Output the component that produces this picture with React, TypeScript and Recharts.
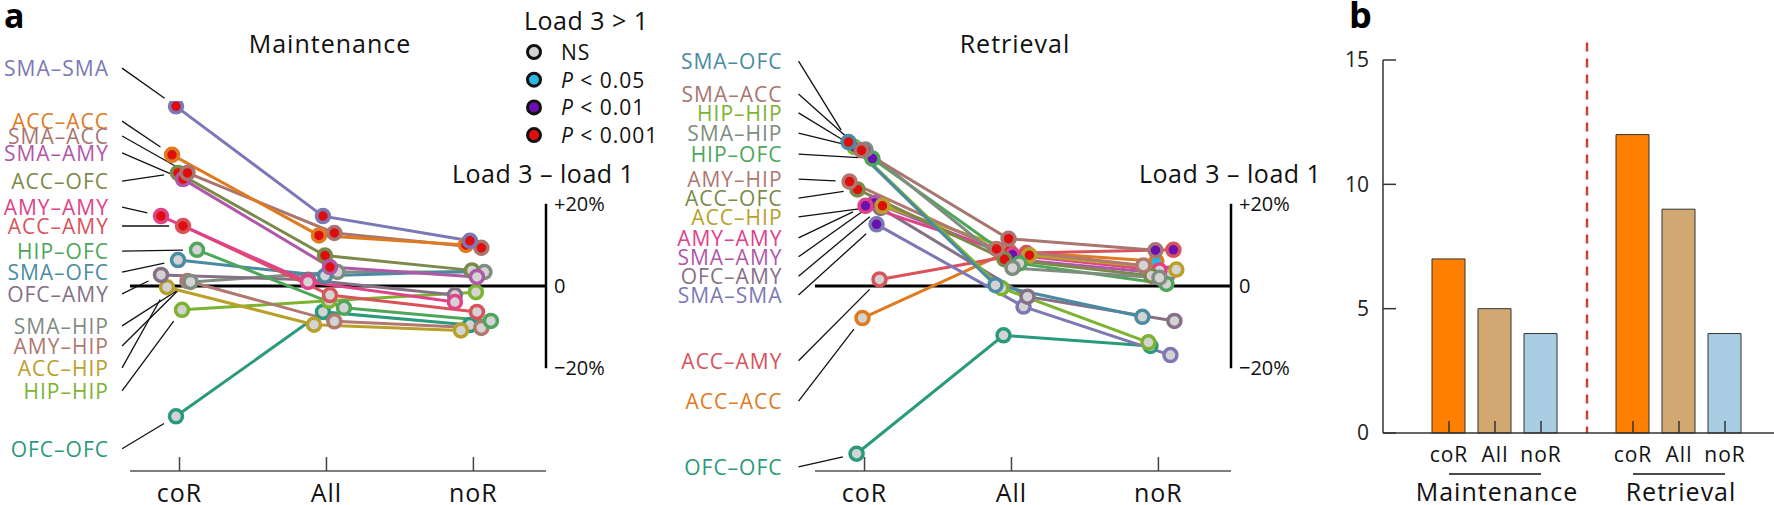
import React from "react";
import {
  LineChart,
  Line,
  XAxis,
  YAxis,
  ReferenceLine,
  ReferenceDot,
  BarChart,
  Bar,
  Cell,
} from "recharts";

const categories = ["coR", "All", "noR"];

// region pairs, listed in label order (top to bottom)
const maintRegions = [
  "SMA–SMA", "ACC–ACC", "SMA–ACC", "SMA–AMY", "ACC–OFC", "AMY–AMY", "ACC–AMY",
  "HIP–OFC", "SMA–OFC", "OFC–AMY", "SMA–HIP", "AMY–HIP", "ACC–HIP", "HIP–HIP", "OFC–OFC",
];
// load 3 - load 1 (%) at coR, All, noR
const maintValues = [
  [43.7, 17, 11], [31.9, 12.3, 10], [27.5, 12.9, 9.3], [26, 4.6, 2.2], [27.5, 7.4, 3.8],
  [17, 1, -3.9], [14.6, -2.2, -6.3], [8.8, -5.3, -8.5], [6.3, 2.5, 3.6], [2.7, 1.5, -2.2],
  [1, 3.4, 3.4], [1.2, -8.6, -10.2], [-0.3, -9.4, -10.8], [-5.8, -3.6, -1.5], [-31.7, -6.3, -9.5],
];
// 0 NS, 1 P<0.05, 2 P<0.01, 3 P<0.001
const maintSig = [
  [3, 3, 3], [3, 3, 3], [3, 3, 3], [3, 3, 0], [3, 3, 0], [3, 0, 0], [3, 0, 0], [0, 0, 0],
  [0, 0, 1], [0, 0, 0], [0, 0, 0], [0, 0, 0], [0, 0, 0], [0, 0, 0], [0, 0, 0],
];
const maintJitter = [
  -0.024, -0.051, 0.054, 0.024, -0.01, -0.126, 0.024, 0.119, -0.01, -0.126, 0.075, 0.054,
  -0.085, 0.017, -0.024,
];
const maintLabelY = [53, 40.1, 36.5, 32.4, 25.5, 19.2, 14.6, 8.5, 3.4, -1.9, -9.7, -14.6, -19.9, -25.5, -39.6];

const retrRegions = [
  "SMA–OFC", "SMA–ACC", "HIP–HIP", "SMA–HIP", "HIP–OFC", "AMY–HIP", "ACC–OFC", "ACC–HIP",
  "AMY–AMY", "SMA–AMY", "OFC–AMY", "SMA–SMA", "ACC–AMY", "ACC–ACC", "OFC–OFC",
];
const retrValues = [
  [35, 0.2, -7.5], [33, 11.5, 8.7], [33.8, -0.5, -13.7], [33.2, 4.4, 2], [31, 5.5, 0.5],
  [25.4, 9, 5], [23.5, 6.5, 2.5], [19.5, 7.5, 4], [19.5, 7.6, 3.8], [20.2, 6.3, 3],
  [19, -2.6, -8.5], [15, -5, -16.8], [1.6, 8, 8.8], [-7.8, 8.5, 6], [-40.8, -12, -14.6],
];
const retrSig = [
  [3, 0, 0], [3, 3, 2], [2, 0, 0], [2, 0, 0], [2, 0, 0], [3, 3, 0], [3, 3, 0], [3, 3, 0],
  [2, 2, 0], [2, 2, 0], [3, 0, 0], [2, 0, 0], [0, 3, 2], [0, 3, 1], [0, 0, 0],
];
const retrJitter = [
  -0.109, -0.02, -0.068, 0.007, 0.054, -0.102, -0.048, 0.122, 0.007, 0.068, 0.109, 0.082,
  0.102, -0.014, -0.054,
];
const retrLabelY = [54.7, 46.7, 42.1, 37.2, 32.1, 26, 21.4, 16.8, 11.7, 7.1, 2.4, -2.2, -18.2, -28, -44];

const barLabels = ["coR", "All", "noR"];
const barGroups = ["Maintenance", "Retrieval"];
const maintCounts = [7, 5, 4];
const retrCounts = [12, 9, 4];

const legendLabels = ["NS", "< 0.05", "< 0.01", "< 0.001"];

const regionColors: Record<string, string> = {
  "SMA–SMA": "#7b78b5",
  "ACC–ACC": "#e07a1f",
  "SMA–ACC": "#a87570",
  "SMA–AMY": "#b058a8",
  "ACC–OFC": "#7b8a48",
  "AMY–AMY": "#e0428a",
  "ACC–AMY": "#d9535b",
  "HIP–OFC": "#4ea65a",
  "SMA–OFC": "#4a8ba3",
  "OFC–AMY": "#857086",
  "SMA–HIP": "#7e8d80",
  "AMY–HIP": "#b07870",
  "ACC–HIP": "#b9a02a",
  "HIP–HIP": "#7cb32f",
  "OFC–OFC": "#2a9a7c",
};
const sigColors = ["#d3d3d3", "#2bb7e3", "#6a0fb0", "#e00d0d"];
const barColors = ["#ff8000", "#d2a872", "#a9cde2"];

const FONT = "'Open Sans', sans-serif";

// slope panel geometry
const PLOT_W = 416;
const PLOT_TOP = 101;
const PLOT_H = 370;
const AXIS_R = 74;
const X_DOMAIN: [number, number] = [-0.337, 2.494];
const Y_DOMAIN: [number, number] = [-45, 45];
const PX_X = PLOT_W / (X_DOMAIN[1] - X_DOMAIN[0]);
const PX_Y = PLOT_H / (Y_DOMAIN[1] - Y_DOMAIN[0]);

const fmtPct = (v: number) => (v === 0 ? "0" : v > 0 ? `+${v}%` : `−${Math.abs(v)}%`);

// end of a leader line, stopped short of the marker
function leaderEnd(sx: number, sy: number, mx: number, my: number, gap = 14) {
  const dx = (mx - sx) * PX_X;
  const dy = (my - sy) * PX_Y;
  const d = Math.hypot(dx, dy) || 1;
  return { x: mx - ((dx / d) * gap) / PX_X, y: my - ((dy / d) * gap) / PX_Y };
}

interface SlopeProps {
  regions: string[];
  values: number[][];
  sig: number[][];
  jitter: number[];
  labelY: number[];
  labelX: number;
  leadX: number;
  left: number;
  marginLeft: number;
}

function SlopePanel({ regions, values, sig, jitter, labelY, labelX, leadX, left, marginLeft }: SlopeProps) {
  const width = marginLeft + PLOT_W + AXIS_R;
  const order = regions.map((_, i) => i).reverse();
  return (
    <div style={{ position: "absolute", left, top: 0 }}>
      <LineChart
        width={width}
        height={505}
        margin={{ top: PLOT_TOP, right: 0, bottom: 0, left: marginLeft }}
      >
        <XAxis
          type="number"
          dataKey="x"
          domain={X_DOMAIN}
          ticks={[0, 1, 2]}
          interval={0}
          allowDataOverflow
          tickFormatter={(v: number) => categories[v]}
          height={505 - PLOT_TOP - PLOT_H}
          tickSize={-14}
          tickMargin={27}
          axisLine={{ stroke: "#555", strokeWidth: 1.5 }}
          tickLine={{ stroke: "#444", strokeWidth: 1.5 }}
          tick={{ fill: "#111", fontSize: 25, letterSpacing: 1 }}
        />
        <YAxis
          orientation="right"
          type="number"
          domain={Y_DOMAIN}
          ticks={[-20, 0, 20]}
          interval={0}
          allowDataOverflow
          tickFormatter={fmtPct}
          width={AXIS_R}
          axisLine={false}
          tickLine={false}
          tickSize={0}
          tickMargin={8}
          tick={{ fill: "#111", fontSize: 20 }}
        />
        <ReferenceLine y={0} stroke="#000" strokeWidth={3} />
        <ReferenceLine
          segment={[
            { x: X_DOMAIN[1], y: 20 },
            { x: X_DOMAIN[1], y: -20 },
          ]}
          stroke="#000"
          strokeWidth={2.5}
          ifOverflow="visible"
        />
        {regions.map((name, i) => {
          const mx = jitter[i];
          const my = values[i][0];
          const end = leaderEnd(leadX, labelY[i], mx, my);
          return (
            <ReferenceLine
              key={`lead-${name}`}
              segment={[
                { x: leadX, y: labelY[i] },
                { x: end.x, y: end.y },
              ]}
              stroke="#111"
              strokeWidth={1.3}
              ifOverflow="visible"
            />
          );
        })}
        {regions.map((name, i) => (
          <ReferenceDot
            key={`lab-${name}`}
            x={labelX}
            y={labelY[i]}
            r={0}
            ifOverflow="visible"
            shape={(p: any) => (
              <text
                x={p.cx}
                y={p.cy}
                textAnchor="end"
                dominantBaseline="central"
                fill={regionColors[name]}
                fontSize={21}
                letterSpacing={1}
              >
                {name}
              </text>
            )}
          />
        ))}
        {order.map((i) => {
          const color = regionColors[regions[i]];
          const pts = values[i].map((v, j) => ({ x: j + jitter[i], y: v, s: sig[i][j] }));
          return (
            <Line
              key={regions[i]}
              data={pts}
              dataKey="y"
              type="linear"
              stroke={color}
              strokeWidth={3}
              isAnimationActive={false}
              dot={(p: any) => (
                <circle
                  key={`${regions[i]}-${p.index}`}
                  cx={p.cx}
                  cy={p.cy}
                  r={6.5}
                  fill={sigColors[p.payload.s]}
                  stroke={color}
                  strokeWidth={3.5}
                />
              )}
              activeDot={false}
            />
          );
        })}
      </LineChart>
    </div>
  );
}

const barData = [
  ...maintCounts.map((v, k) => ({ x: k, v, k })),
  ...retrCounts.map((v, k) => ({ x: k + 4, v, k })),
];

function BarTick(props: any) {
  const { x, y, payload } = props;
  const val = payload.value as number;
  const g = val > 3 ? 1 : 0;
  const k = val - g * 4;
  return (
    <g>
      <text x={x} y={y} dy="0.71em" textAnchor="middle" fill="#111" fontSize={21} letterSpacing={1}>
        {barLabels[k]}
      </text>
      {k === 1 && (
        <>
          <line x1={x - 46} x2={x + 46} y1={y + 27} y2={y + 27} stroke="#111" strokeWidth={1.3} />
          <text x={x + 2} y={y + 54} textAnchor="middle" fill="#111" fontSize={25} letterSpacing={1}>
            {barGroups[g]}
          </text>
        </>
      )}
    </g>
  );
}

export default function App() {
  return (
    <div
      style={{
        position: "absolute",
        left: 0,
        top: 0,
        width: 1774,
        height: 505,
        overflow: "hidden",
        background: "#fff",
        fontFamily: FONT,
      }}
    >
      <SlopePanel
        regions={maintRegions}
        values={maintValues}
        sig={maintSig}
        jitter={maintJitter}
        labelY={maintLabelY}
        labelX={-0.48}
        leadX={-0.391}
        left={0}
        marginLeft={130}
      />
      <SlopePanel
        regions={retrRegions}
        values={retrValues}
        sig={retrSig}
        jitter={retrJitter}
        labelY={retrLabelY}
        labelX={-0.558}
        leadX={-0.449}
        left={655}
        marginLeft={160}
      />
      <div style={{ position: "absolute", left: 1300, top: 0 }}>
        <BarChart width={474} height={505} data={barData} margin={{ top: 60, right: 0, bottom: 0, left: 0 }}>
          <XAxis
            type="number"
            dataKey="x"
            domain={[-1.435, 7.065]}
            ticks={[0, 1, 2, 4, 5, 6]}
            interval={0}
            allowDataOverflow
            height={72}
            tickSize={-12}
            tickMargin={26}
            tick={<BarTick />}
            axisLine={{ stroke: "#333", strokeWidth: 1.5 }}
            tickLine={{ stroke: "#333", strokeWidth: 1.5 }}
          />
          <YAxis
            type="number"
            domain={[0, 15]}
            ticks={[0, 5, 10, 15]}
            interval={0}
            width={83}
            tickSize={-13}
            tickMargin={27}
            axisLine={{ stroke: "#333", strokeWidth: 1.5 }}
            tickLine={{ stroke: "#333", strokeWidth: 1.5 }}
            tick={{ fill: "#222", fontSize: 21 }}
          />
          <Bar dataKey="v" barSize={33} stroke="#333" strokeWidth={1} isAnimationActive={false}>
            {barData.map((d) => (
              <Cell key={`c${d.x}`} fill={barColors[d.k]} />
            ))}
          </Bar>
          <ReferenceLine
            segment={[
              { x: 3, y: 15.7 },
              { x: 3, y: 0 },
            ]}
            stroke="#c9442d"
            strokeWidth={2.5}
            strokeDasharray="9 7"
            ifOverflow="visible"
          />
        </BarChart>
      </div>
      <svg
        width={1774}
        height={505}
        style={{ position: "absolute", left: 0, top: 0, pointerEvents: "none" }}
      >
        <text x={4} y={28} fontSize={34} fontWeight={700} fill="#000">a</text>
        <text x={1349} y={28} fontSize={36} fontWeight={700} fill="#000">b</text>
        <text x={330} y={53} textAnchor="middle" fontSize={25} letterSpacing={1} fill="#111">Maintenance</text>
        <text x={1015} y={53} textAnchor="middle" fontSize={25} letterSpacing={1} fill="#111">Retrieval</text>
        <text x={524} y={30} fontSize={25} letterSpacing={0.5} fill="#111">Load 3 &gt; 1</text>
        {legendLabels.map((t, i) => (
          <g key={t}>
            <circle cx={534} cy={52 + 27.7 * i} r={6.5} fill={sigColors[i]} stroke="#111" strokeWidth={3} />
            <text x={561} y={52 + 27.7 * i} dominantBaseline="central" fontSize={21} letterSpacing={1} fill="#111">
              {i === 0 ? (
                t
              ) : (
                <>
                  <tspan fontStyle="italic">P</tspan> {t}
                </>
              )}
            </text>
          </g>
        ))}
        <text x={452} y={183} fontSize={25} letterSpacing={0.5} fill="#111">Load 3 – load 1</text>
        <text x={1139} y={183} fontSize={25} letterSpacing={0.5} fill="#111">Load 3 – load 1</text>
      </svg>
    </div>
  );
}
